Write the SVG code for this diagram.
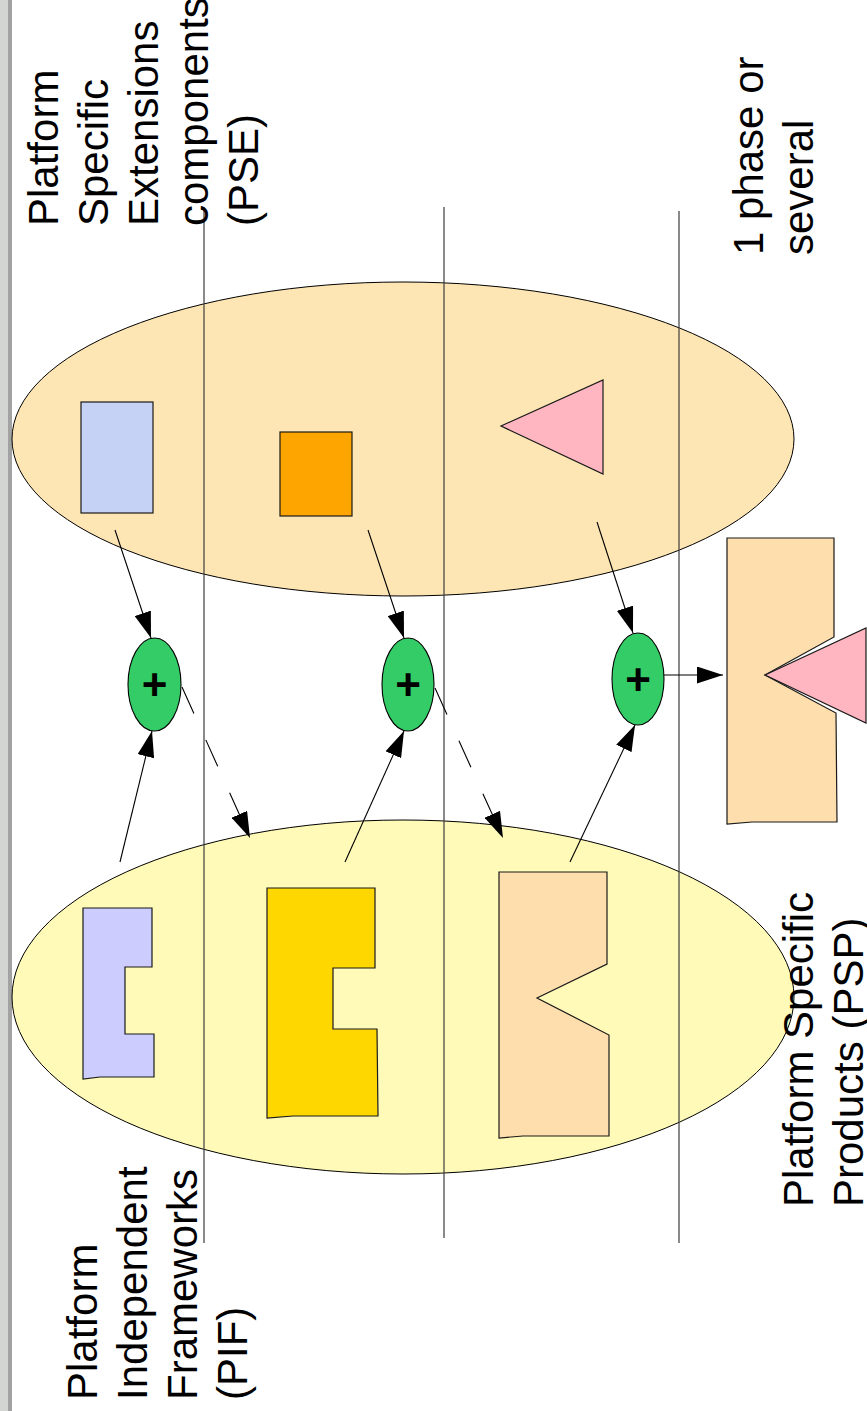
<svg xmlns="http://www.w3.org/2000/svg" width="867" height="1411" viewBox="0 0 867 1411">
  <style>
    .label { font-family: "Liberation Sans", Arial, sans-serif; font-size: 42px; fill: #000; }
    .plus { font-family: "Liberation Sans", Arial, sans-serif; font-size: 44px; font-weight: bold; fill: #000; text-anchor: middle; }
    .shape { stroke: #1a1a1a; stroke-width: 1.2; stroke-linejoin: miter; }
    .lane { stroke: #3c3c3c; stroke-width: 1.2; fill: none; }
    .edge { stroke: #000; stroke-width: 1.1; fill: none; marker-end: url(#head); }
    .dashed { stroke-dasharray: 29 29; }
    .join { fill: #33cc66; stroke: #000; stroke-width: 1.1; }
  </style>
  <defs>
    <marker id="head" markerUnits="userSpaceOnUse" markerWidth="26" markerHeight="17" refX="26" refY="8.5" orient="auto">
      <path d="M0,0 L26,8.5 L0,17 z" fill="#000"/>
    </marker>
  </defs>

  <rect x="0" y="0" width="867" height="1411" fill="#fff"/>
  <!-- page edge -->
  <rect x="0" y="0" width="8" height="1411" fill="#d3d5d2"/>
  <rect x="8" y="0" width="4" height="1411" fill="#a2a2a2"/>

  <!-- groups -->
  <g id="pse-group">
    <ellipse cx="403" cy="439" rx="391" ry="157" fill="#fee6b4" stroke="#000" stroke-width="1"/>
  </g>
  <g id="pif-group">
    <ellipse cx="403" cy="997" rx="391" ry="177" fill="#fffab8" stroke="#000" stroke-width="1"/>
  </g>

  <!-- swimlane separators -->
  <g id="lanes">
    <line class="lane" x1="204" y1="207" x2="204" y2="1243"/>
    <line class="lane" x1="444" y1="207" x2="444" y2="1238"/>
    <line class="lane" x1="679" y1="211" x2="679" y2="1243"/>
  </g>

  <!-- extension components -->
  <g id="pse-blue">
    <rect class="shape" x="81" y="402" width="72" height="111" fill="#c5d1f5"/>
  </g>
  <g id="pse-orange">
    <rect class="shape" x="280" y="432" width="72" height="84" fill="#ffa500"/>
  </g>
  <g id="pse-pink">
    <polygon class="shape" points="501,426 603,380 603,474" fill="#ffb6c1"/>
  </g>

  <!-- frameworks -->
  <g id="pif-blue">
    <polygon class="shape" points="83,908 152,908 152,967 125,967 125,1034 154,1034 154,1077 100,1077 83,1079" fill="#ccccff"/>
  </g>
  <g id="pif-gold">
    <polygon class="shape" points="267,888 375,888 375,968 333,968 333,1029 377,1029 378,1116 293,1116 267,1118" fill="#ffd700"/>
  </g>
  <g id="pif-peach">
    <polygon class="shape" points="499,872 607,872 607,964 537,998 609,1035 609,1136 523,1136 499,1138" fill="#fddeac"/>
  </g>

  <!-- combined product -->
  <g id="psp-product">
    <polygon class="shape" points="727,538 834,538 834,637 765,675 836,713 837,822 752,822 727,824" fill="#fddeac"/>
    <polygon class="shape" points="765,675 866,628 866,723" fill="#ffb6c1"/>
  </g>

  <!-- connectors -->
  <g id="connectors">
    <line class="edge" x1="115" y1="530" x2="151" y2="638"/>
    <line class="edge" x1="120" y1="862" x2="152" y2="731"/>
    <line class="edge dashed" x1="182" y1="687" x2="250" y2="838"/>
    <line class="edge" x1="368" y1="530" x2="404" y2="638"/>
    <line class="edge" x1="345" y1="862" x2="404" y2="731"/>
    <line class="edge dashed" x1="435" y1="688" x2="503" y2="838"/>
    <line class="edge" x1="597" y1="522" x2="633" y2="633"/>
    <line class="edge" x1="570" y1="862" x2="635" y2="725"/>
    <line class="edge" x1="664" y1="675" x2="723" y2="675"/>
  </g>

  <!-- merge points -->
  <g id="merge-1">
    <ellipse class="join" cx="154.5" cy="684.5" rx="26.5" ry="46.5"/>
    <text class="plus" x="154.5" y="700">+</text>
  </g>
  <g id="merge-2">
    <ellipse class="join" cx="408" cy="684.5" rx="26" ry="46.5"/>
    <text class="plus" x="408" y="700">+</text>
  </g>
  <g id="merge-3">
    <ellipse class="join" cx="638" cy="679" rx="26" ry="46"/>
    <text class="plus" x="638" y="694.5">+</text>
  </g>

  <!-- labels -->
  <g id="label-pse">
    <text class="label" transform="translate(58,226) rotate(-90)">Platform</text>
    <text class="label" transform="translate(108,226) rotate(-90)">Specific</text>
    <text class="label" transform="translate(158,226) rotate(-90)">Extensions</text>
    <text class="label" transform="translate(208,226) rotate(-90)">components</text>
    <text class="label" transform="translate(258,226) rotate(-90)">(PSE)</text>
  </g>
  <g id="label-phase">
    <text class="label" transform="translate(763,255) rotate(-90)">1 phase or</text>
    <text class="label" transform="translate(813,255) rotate(-90)">several</text>
  </g>
  <g id="label-pif">
    <text class="label" transform="translate(97,1400) rotate(-90)">Platform</text>
    <text class="label" transform="translate(147,1400) rotate(-90)">Independent</text>
    <text class="label" transform="translate(197,1400) rotate(-90)">Frameworks</text>
    <text class="label" transform="translate(247,1400) rotate(-90)">(PIF)</text>
  </g>
  <g id="label-psp">
    <text class="label" transform="translate(813,1207) rotate(-90)">Platform Specific</text>
    <text class="label" transform="translate(863,1207) rotate(-90)">Products (PSP)</text>
  </g>
</svg>
